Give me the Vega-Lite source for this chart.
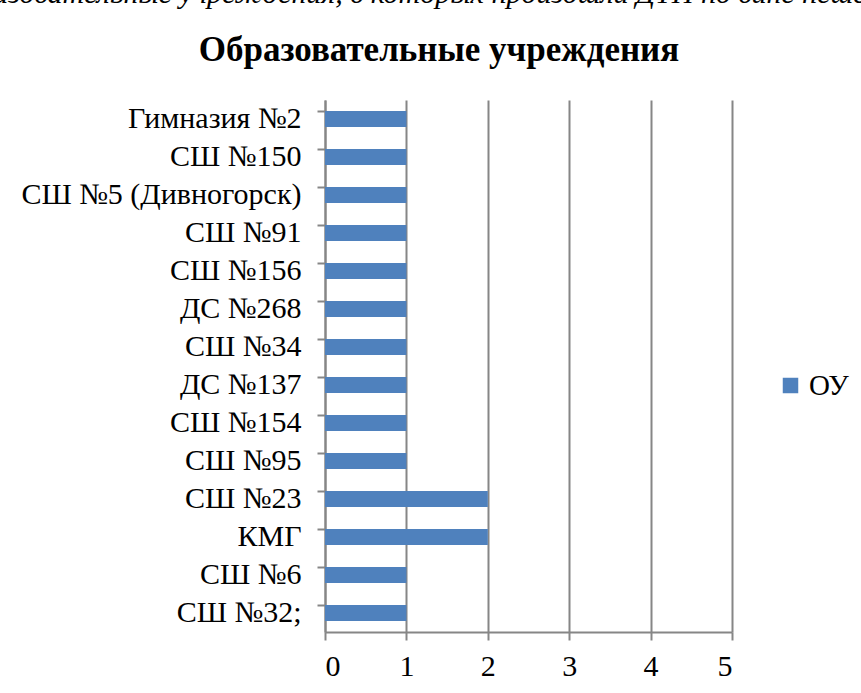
{
  "$schema": "https://vega.github.io/schema/vega-lite/v6.json",
  "autosize": "none",
  "width": 407,
  "height": 532,
  "padding": {"left": 325, "top": 100, "right": 129, "bottom": 61},
  "background": "white",
  "title": {
    "text": "Образовательные учреждения, в которых произошли ДТП по вине пешеходов",
    "subtitle": "Образовательные учреждения",
    "anchor": "middle",
    "frame": "bounds",
    "font": "Liberation Serif",
    "fontSize": 30,
    "fontStyle": "italic",
    "fontWeight": "normal",
    "color": "black",
    "subtitleFont": "Liberation Serif",
    "subtitleFontSize": 35,
    "subtitleFontWeight": "bold",
    "subtitleColor": "black",
    "subtitlePadding": 24,
    "offset": 32,
    "dx": 4
  },
  "data": {
    "values": [
      {"school": "Гимназия №2", "count": 1, "series": "ОУ"},
      {"school": "СШ №150", "count": 1, "series": "ОУ"},
      {"school": "СШ №5 (Дивногорск)", "count": 1, "series": "ОУ"},
      {"school": "СШ №91", "count": 1, "series": "ОУ"},
      {"school": "СШ №156", "count": 1, "series": "ОУ"},
      {"school": "ДС №268", "count": 1, "series": "ОУ"},
      {"school": "СШ №34", "count": 1, "series": "ОУ"},
      {"school": "ДС №137", "count": 1, "series": "ОУ"},
      {"school": "СШ №154", "count": 1, "series": "ОУ"},
      {"school": "СШ №95", "count": 1, "series": "ОУ"},
      {"school": "СШ №23", "count": 2, "series": "ОУ"},
      {"school": "КМГ", "count": 2, "series": "ОУ"},
      {"school": "СШ №6", "count": 1, "series": "ОУ"},
      {"school": "СШ №32;", "count": 1, "series": "ОУ"}
    ]
  },
  "mark": {"type": "bar"},
  "encoding": {
    "y": {
      "field": "school",
      "type": "nominal",
      "sort": null,
      "scale": {"paddingInner": 0.58, "paddingOuter": 0.29},
      "axis": {
        "title": null,
        "bandPosition": 0,
        "labelFont": "Liberation Serif",
        "labelFontSize": 30,
        "labelLimit": 400,
        "labelColor": "black",
        "labelPadding": 16,
        "tickSize": 8,
        "tickColor": "#868686",
        "tickWidth": 2,
        "domainColor": "#868686",
        "domainWidth": 2,
        "grid": false
      }
    },
    "x": {
      "field": "count",
      "type": "quantitative",
      "scale": {"domain": [0, 5]},
      "axis": {
        "title": null,
        "values": [0, 1, 2, 3, 4, 5],
        "labelFont": "Liberation Serif",
        "labelFontSize": 30,
        "labelColor": "black",
        "labelPadding": 11,
        "tickSize": 8,
        "tickColor": "#868686",
        "tickWidth": 2,
        "domainColor": "#868686",
        "domainWidth": 2,
        "grid": true,
        "gridColor": "#868686",
        "gridWidth": 2
      }
    },
    "color": {
      "field": "series",
      "type": "nominal",
      "scale": {"range": ["#4F81BD"]},
      "legend": {
        "title": null,
        "orient": "none",
        "legendX": 451,
        "legendY": 271,
        "symbolType": "square",
        "symbolSize": 240,
        "symbolStrokeWidth": 0,
        "labelFont": "Liberation Serif",
        "labelFontSize": 29,
        "labelColor": "black",
        "labelOffset": 4
      }
    }
  },
  "config": {"view": {"stroke": null}}
}
